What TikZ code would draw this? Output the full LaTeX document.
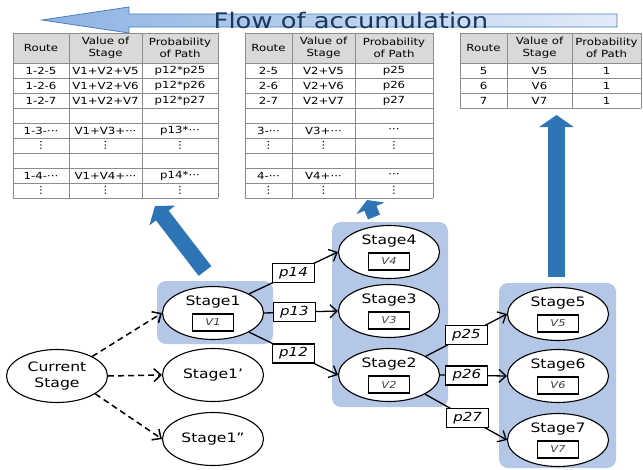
\documentclass[tikz,border=0pt]{standalone}
\usepackage{fontspec}
\setmainfont[FakeStretch=1.2]{DejaVu Sans}
\usetikzlibrary{shapes.geometric,arrows.meta,calc}
\definecolor{grpblue}{HTML}{B4C7E7}
\definecolor{bigblue}{HTML}{2E75B6}
\definecolor{titleblue}{HTML}{17375E}
\definecolor{arrowedge}{HTML}{4A7EBB}
\definecolor{shadeL}{HTML}{8DB3E2}
\definecolor{shadeR}{HTML}{E3ECF7}
\definecolor{hdrgray}{HTML}{D9D9D9}
\definecolor{gridgray}{HTML}{8C8C8C}
\begin{document}
\begin{tikzpicture}[x=1pt,y=-1pt,
  stg/.style={ellipse,draw=black,line width=1.1pt,fill=white,minimum width=101pt,minimum height=53pt,inner sep=0pt,font=\fontsize{13}{16}\selectfont,align=center},
  stgtxt/.style={font=\fontsize{13}{15}\selectfont,inner sep=0pt},
  vbox/.style={draw=black,line width=1.5pt,minimum width=41pt,minimum height=17pt,inner sep=0pt,font=\fontsize{9.5}{11}\itshape\selectfont,text=black!75},
  pbox/.style={draw=black,line width=1.3pt,fill=white,minimum width=42pt,minimum height=19pt,inner sep=0pt,font=\fontsize{12.5}{14}\itshape\selectfont},
  grp/.style={fill=grpblue,rounded corners=9pt},
  flow/.style={line width=1.3pt,-{Straight Barb[length=7pt,width=13pt]}},
  dflow/.style={flow,line width=1.5pt,dash pattern=on 6pt off 4pt},
  bigarrow/.style={draw=bigblue,line width=16pt,-{Triangle[length=12pt,width=32pt]}},
  gridline/.style={draw=gridgray,line width=0.6pt},
  cell/.style={inner sep=0pt,font=\fontsize{9.8}{12}\selectfont,text=black,align=center}
]
\useasboundingbox (0,0) rectangle (643,469);

% title arrow
\shadedraw[left color=shadeL,right color=shadeR,draw=arrowedge,line width=0.8pt]
  (42,20) -- (129,7) -- (129,14) -- (617,14) -- (617,27) -- (129,27) -- (129,33) -- cycle;
\node[anchor=base,font=\fontsize{21.5}{24}\selectfont,text=titleblue,inner sep=0pt] (title) at (351,28) {Flow of accumulation};

% table 1
\fill[hdrgray] (13,33) rectangle (218,63);
\draw[gridline] (13,33) -- (218,33);
\foreach \yy in {63,78,...,198} \draw[gridline] (13,\yy) -- (218,\yy);
\foreach \xx in {13,69,142,218} \draw[gridline] (\xx,33) -- (\xx,198);
\node[cell] (t1h1) at (41,48) {Route};
\node[cell] (t1h2) at (105.5,48) {Value of\\Stage};
\node[cell] (t1h3) at (180,48) {Probability\\of Path};
\foreach [count=\i] \a/\b/\c in {1-2-5/V1+V2+V5/p12*p25,1-2-6/V1+V2+V6/p12*p26,1-2-7/V1+V2+V7/p12*p27,{}/{}/{},1-3-···/V1+V3+···/p13*···,⋮/⋮/⋮,{}/{}/{},1-4-···/V1+V4+···/p14*···,⋮/⋮/⋮}{
  \node[cell] (t1r\i a) at (41,55.5+15*\i) {\a};
  \node[cell] (t1r\i b) at (105.5,55.5+15*\i) {\b};
  \node[cell] (t1r\i c) at (180,55.5+15*\i) {\c};
}

% table 2
\fill[hdrgray] (245,33) rectangle (433,63);
\draw[gridline] (245,33) -- (433,33);
\foreach \yy in {63,78,...,198} \draw[gridline] (245,\yy) -- (433,\yy);
\foreach \xx in {245,292,355,433} \draw[gridline] (\xx,33) -- (\xx,198);
\node[cell] (t2h1) at (268.5,48) {Route};
\node[cell] (t2h2) at (323.5,48) {Value of\\Stage};
\node[cell] (t2h3) at (394,48) {Probability\\of Path};
\foreach [count=\i] \a/\b/\c in {2-5/V2+V5/p25,2-6/V2+V6/p26,2-7/V2+V7/p27,{}/{}/{},3-···/V3+···/···,⋮/⋮/⋮,{}/{}/{},4-···/V4+···/···,⋮/⋮/⋮}{
  \node[cell] (t2r\i a) at (268.5,55.5+15*\i) {\a};
  \node[cell] (t2r\i b) at (323.5,55.5+15*\i) {\b};
  \node[cell] (t2r\i c) at (394,55.5+15*\i) {\c};
}

% table 3
\fill[hdrgray] (460,33) rectangle (641,63);
\draw[gridline] (460,33) -- (641,33);
\foreach \yy in {63,78,93,108} \draw[gridline] (460,\yy) -- (641,\yy);
\foreach \xx in {460,507,572,641} \draw[gridline] (\xx,33) -- (\xx,108);
\node[cell] (t3h1) at (483.5,48) {Route};
\node[cell] (t3h2) at (539.5,48) {Value of\\Stage};
\node[cell] (t3h3) at (606.5,48) {Probability\\of Path};
\foreach [count=\i] \a/\b/\c in {5/V5/1,6/V6/1,7/V7/1}{
  \node[cell] (t3r\i a) at (483.5,55.5+15*\i) {\a};
  \node[cell] (t3r\i b) at (539.5,55.5+15*\i) {\b};
  \node[cell] (t3r\i c) at (606.5,55.5+15*\i) {\c};
}

% group boxes
\fill[grp] (157,281) rectangle (273,344);
\fill[grp] (332,222) rectangle (448,407);
\fill[grp] (499,283) rectangle (616,468);

% big blue arrows
\coordinate (a1s) at (205,271); \coordinate (a1e) at (155,206);
\coordinate (a2s) at (374,217); \coordinate (a2e) at (367,200);
\coordinate (a3s) at (556.5,277); \coordinate (a3e) at (556.5,115);
\draw[bigarrow] (a1s) -- (a1e);
\draw[bigarrow,line width=13pt,-{Triangle[length=9pt,width=30pt]}] (a2s) -- (a2e);
\draw[bigarrow,line width=17pt,-{Triangle[length=12pt,width=34pt]}] (a3s) -- (a3e);

% stages
\node[stg] (cur) at (57,376) {Current\\Stage};
\node[stg] (s1) at (213,313) {};
\node[stg] (s1a) at (213,375) {Stage1’};
\node[stg] (s1b) at (213,439) {Stage1\symbol{34}};
\node[stg] (s4) at (389,252) {};
\node[stg] (s3) at (389,311) {};
\node[stg] (s2) at (389,375) {};
\node[stg] (s5) at (558,314) {};
\node[stg] (s6) at (558,376) {};
\node[stg] (s7) at (558,440) {};
\foreach \n/\t/\v in {s1/Stage1/V1,s4/Stage4/V4,s3/Stage3/V3,s2/Stage2/V2,s5/Stage5/V5,s6/Stage6/V6,s7/Stage7/V7}{
  \node[stgtxt] (\n t) at ([yshift=11pt]\n.center) {\t};
  \node[vbox] (\n v) at ([yshift=-9.5pt]\n.center) {\v};
}

% connectors
\draw[dflow] (cur.29) -- (s1.west);
\draw[dflow] (cur.east) -- (s1a.west);
\draw[dflow] (cur.-25) -- (s1b.west);
\draw[flow] (s1.28) -- node[pbox,pos=0.5] (l14) {p14} (s4.west);
\draw[flow] (s1.east) -- node[pbox,pos=0.41] (l13) {p13} (s3.west);
\draw[flow] (s1.-28) -- node[pbox,pos=0.5] (l12) {p12} (s2.west);
\draw[flow] (s2.27) -- node[pbox,pos=0.5] (l25) {p25} (s5.west);
\draw[flow] (s2.east) -- node[pbox,pos=0.4] (l26) {p26} (s6.west);
\draw[flow] (s2.-28) -- node[pbox,pos=0.52] (l27) {p27} (s7.west);
\end{tikzpicture}
\end{document}
